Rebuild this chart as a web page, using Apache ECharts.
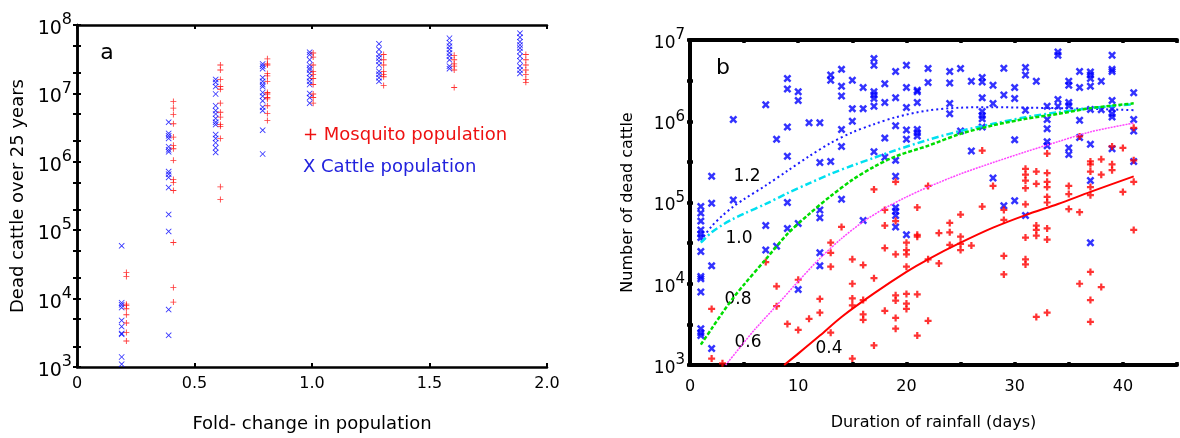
<!DOCTYPE html>
<html>
<head>
<meta charset="utf-8">
<script src="https://cdn.jsdelivr.net/npm/echarts@6.0.0/dist/echarts.min.js"></script>
<style>
html,body{margin:0;padding:0;background:#fff}
#main{width:1180px;height:438px}
</style>
</head>
<body>
<div id="main"></div>
<script>
// ---- panel a : dead cattle vs fold-change ----
const foldTicks = [0, 0.5, 1.0, 1.5, 2.0];
const foldCattleX = [0.19, 0.39, 0.59, 0.79, 0.99, 1.285, 1.585, 1.885];
const foldMosquitoX = [0.21, 0.41, 0.61, 0.81, 1.005, 1.305, 1.605, 1.91];
const cattleDeadByFold = [
  [5.9e4, 8.7e3, 8.1e3, 7.4e3, 4.8e3, 3.9e3, 3.1e3, 3.0e3, 1.4e3, 1.1e3],
  [3.8e6, 2.6e6, 2.4e6, 2.2e6, 1.66e6, 1.5e6, 1.4e6, 7.2e5, 6.6e5, 5.9e5, 4.2e5, 1.7e5, 9.6e4, 6.9e3, 2.9e3],
  [1.6e7, 1.45e7, 1.26e7, 9.8e6, 6.6e6, 5.6e6, 5.0e6, 4.3e6, 3.8e6, 3.5e6, 2.5e6, 2.2e6, 1.9e6, 1.6e6, 1.37e6],
  [2.7e7, 2.5e7, 2.3e7, 1.7e7, 1.5e7, 1.35e7, 1.26e7, 1.03e7, 9.1e6, 7.8e6, 6.3e6, 5.6e6, 2.9e6, 1.3e6],
  [4.0e7, 3.7e7, 3.1e7, 2.6e7, 2.35e7, 2.2e7, 1.96e7, 1.7e7, 1.5e7, 1.35e7, 1.0e7, 8.7e6, 7.2e6],
  [5.3e7, 4.4e7, 3.7e7, 3.3e7, 2.95e7, 2.6e7, 2.1e7, 1.9e7, 1.7e7, 1.5e7],
  [6.4e7, 5.5e7, 4.9e7, 4.4e7, 3.9e7, 3.5e7, 3.1e7, 2.5e7, 2.3e7],
  [7.6e7, 6.6e7, 5.7e7, 5.1e7, 4.6e7, 4.1e7, 3.5e7, 3.0e7, 2.5e7, 2.2e7, 1.96e7]
];
const mosquitoDeadByFold = [
  [2.4e4, 2.1e4, 8.3e3, 7.9e3, 7.1e3, 5.8e3, 4.4e3, 3.2e3, 2.4e3],
  [7.6e6, 6.1e6, 4.9e6, 3.6e6, 2.3e6, 1.74e6, 1.55e6, 1.05e6, 5.5e5, 5.0e5, 3.8e5, 6.6e4, 1.45e4, 8.9e3],
  [2.6e7, 2.2e7, 1.6e7, 1.26e7, 1.15e7, 7.2e6, 5.3e6, 4.5e6, 3.5e6, 3.3e6, 2.2e6, 4.3e5, 2.8e5],
  [3.2e7, 2.7e7, 2.6e7, 1.96e7, 1.8e7, 1.5e7, 1.03e7, 9.8e6, 8.7e6, 8.3e6, 6.6e6, 5.1e6, 4.0e6],
  [3.9e7, 3.4e7, 2.6e7, 2.1e7, 1.9e7, 1.65e7, 1.35e7, 9.8e6, 8.7e6, 7.2e6],
  [3.7e7, 3.1e7, 2.6e7, 2.1e7, 1.9e7, 1.75e7, 1.3e7],
  [3.6e7, 3.1e7, 2.7e7, 2.5e7, 2.2e7, 1.22e7],
  [3.7e7, 3.1e7, 2.6e7, 2.2e7, 1.9e7, 1.6e7, 1.45e7]
];
const leftYLabels = [1e3, 1e4, 1e5, 1e6, 1e7, 1e8];

// ---- panel b : dead cattle vs rainfall duration ----
const rainTicks = [0, 10, 20, 30, 40];
const cattleDays = [1, 2, 4, 7, 8, 9, 10, 11, 12, 13, 14, 15, 16, 17, 18, 19, 20, 21, 22, 24, 25, 26, 27, 28, 29, 30, 31, 32, 33, 34, 35, 36, 37, 38, 39, 41];
const cattleDeadByDay = [
  [8.9e4, 7.4e4, 5.9e4, 4.6e4, 4.1e4, 3.7e4, 2.5e4, 1.23e4, 1.15e4, 7.9e3, 2.8e3, 2.5e3, 2.3e3],
  [2.1e5, 9.8e4, 1.66e4, 1.6e3],
  [1.05e6, 1.07e5],
  [1.6e6, 5.2e4, 2.6e4],
  [6.0e5, 2.9e4],
  [3.35e6, 2.5e6, 8.5e5, 3.7e5, 1.0e5, 4.8e4],
  [2.3e6, 1.8e6, 5.5e4, 8.5e3],
  [9.6e5],
  [9.6e5, 3.1e5, 8.1e4, 6.5e4, 2.4e4, 1.66e4],
  [3.7e6, 3.2e6, 3.2e5],
  [4.35e6, 2.7e6, 2.05e6, 7.9e5, 4.9e5, 1.1e5],
  [3.2e6, 1.43e6, 1.0e6],
  [2.6e6, 1.43e6, 6.0e4],
  [5.9e6, 4.9e6, 2.3e6, 2.1e6, 1.9e6, 1.53e6, 4.2e5],
  [2.9e6, 1.7e6, 6.2e5, 3.6e5],
  [4.1e6, 1.95e6, 8.8e5, 3.3e5, 2.1e5, 8.7e4, 7.8e4, 6.9e4, 5.0e4],
  [4.9e6, 2.6e6, 1.48e6, 7.8e5, 6.0e5, 4.0e4],
  [2.4e6, 2.3e6, 1.7e6, 7.9e5, 7.2e5, 6.6e5],
  [4.45e6, 3.0e6],
  [4.1e6, 2.95e6, 1.65e6, 1.24e6],
  [4.45e6, 7.6e5],
  [3.1e6, 4.3e5],
  [3.45e6, 3.05e6, 1.94e6, 1.32e6, 1.18e6, 1.07e6, 8.5e5],
  [2.77e6, 1.65e6, 2.0e5],
  [4.5e6, 2.1e6, 9.1e4],
  [2.6e6, 1.9e6, 5.9e5, 1.05e5],
  [4.6e6, 3.7e6, 1.37e6, 6.9e4],
  [3.1e6],
  [1.53e6, 1.05e6, 8.1e5, 5.6e5, 5.0e5],
  [7.1e6, 6.5e6, 1.85e6, 1.53e6],
  [3.1e6, 2.77e6, 1.7e6, 1.55e6, 4.7e5, 3.9e5],
  [4.1e6, 2.6e6, 1.03e6, 6.3e5],
  [4.05e6, 3.7e6, 3.35e6, 2.7e6, 1.4e6, 5.2e5, 1.86e5, 3.2e4],
  [3.1e6, 1.39e6],
  [6.5e6, 4.35e6, 4.1e6, 1.8e6, 1.43e6, 1.24e6, 1.13e6, 4.6e5],
  [2.25e6, 1.05e6, 7.6e5, 3.2e5]
];
const mosquitoDays = [2, 3, 7, 8, 9, 10, 11, 12, 13, 14, 15, 16, 17, 18, 19, 20, 21, 22, 23, 24, 25, 26, 27, 28, 29, 31, 32, 33, 35, 36, 37, 38, 39, 40, 41];
const mosquitoDeadByDay = [
  [4.9e3, 1.2e3],
  [1.05e3],
  [1.85e4],
  [9.3e3, 5.3e3],
  [3.2e3],
  [1.12e4, 2.7e3],
  [3.7e3],
  [6.5e3, 4.4e3],
  [3.2e4, 2.4e4, 1.62e4, 2.5e3],
  [5.0e4],
  [2.0e4, 1.0e4, 6.6e3, 5.4e3, 1.2e3],
  [1.7e4, 6.3e3, 4.2e3, 3.6e3],
  [1.45e5, 1.17e4, 1.74e3],
  [8.1e4, 5.2e4, 2.75e4, 4.65e3],
  [1.8e5, 5.9e4, 2.3e4, 7.2e3, 6.2e3, 3.8e3, 2.8e3],
  [3.2e4, 2.6e4, 2.3e4, 1.62e4, 7.5e3, 5.7e3, 4.9e3],
  [8.7e4, 4.0e4, 3.8e4, 7.4e3, 2.3e3],
  [1.6e5, 2.0e4, 3.5e3],
  [4.2e4, 1.78e4],
  [5.6e4, 4.3e4, 3.0e4],
  [7.1e4, 3.8e4, 3.1e4, 2.6e4],
  [2.95e4],
  [4.35e5, 8.9e4],
  [1.6e5],
  [8.1e4, 6.1e4, 2.2e4, 1.3e4],
  [2.6e5, 2.2e5, 1.86e5, 1.5e5, 9.5e4, 3.7e4, 2.0e4, 1.73e4],
  [2.4e5, 1.7e5, 5.2e4, 4.6e4, 3.9e4, 3.9e3],
  [4.0e5, 2.3e5, 1.8e5, 1.55e5, 1.17e5, 1.0e5, 4.8e4, 3.5e4, 4.4e3],
  [1.6e5, 1.27e5, 8.3e4],
  [6.5e5, 7.6e4, 1.0e4],
  [3.2e5, 2.95e5, 2.4e5, 1.55e5, 1.23e5, 1.4e4, 6.3e3, 3.4e3],
  [3.4e5, 2.2e5, 9.1e3],
  [4.9e5, 2.95e5, 2.5e5],
  [4.7e5, 1.35e5],
  [8.3e5, 3.3e5, 1.8e5, 4.6e4]
];
// model curves, one per fold-change
const curveDays = [1, 2, 3, 4, 5, 7, 9, 11, 13, 15, 17, 19, 22, 25, 28, 31, 34, 37, 41];
const curve12 = [3.4e4, 5.1e4, 6.9e4, 8.9e4, 1.1e5, 1.62e5, 2.45e5, 3.7e5, 5.4e5, 7.3e5, 9.2e5, 1.12e6, 1.36e6, 1.47e6, 1.49e6, 1.47e6, 1.45e6, 1.42e6, 1.37e6];
const curve10 = [3.2e4, 4.3e4, 5.3e4, 6.3e4, 7.3e4, 9.6e4, 1.3e5, 1.72e5, 2.25e5, 2.85e5, 3.55e5, 4.4e5, 5.9e5, 7.6e5, 9.3e5, 1.12e6, 1.29e6, 1.45e6, 1.62e6];
const curve08 = [1.78e3, 2.8e3, 4.4e3, 6.7e3, 9.8e3, 2.0e4, 4.1e4, 7.2e4, 1.2e5, 1.9e5, 2.75e5, 3.7e5, 5.0e5, 7.0e5, 8.9e5, 1.07e6, 1.23e6, 1.45e6, 1.66e6];
const curve06Days = [3.3, 5, 6, 8, 10, 12, 14, 16, 18, 20, 22, 25, 28, 31, 34, 37, 41];
const curve06 = [1.0e3, 1.9e3, 2.75e3, 5.4e3, 1.07e4, 2.05e4, 3.6e4, 5.8e4, 8.5e4, 1.17e5, 1.55e5, 2.25e5, 3.1e5, 4.2e5, 5.6e5, 7.4e5, 9.5e5];
const curve04Days = [8.7, 10, 12, 14, 17, 20, 22, 25, 28, 31, 34, 37, 41];
const curve04 = [1.0e3, 1.38e3, 2.3e3, 3.9e3, 7.6e3, 1.4e4, 2.0e4, 3.2e4, 4.9e4, 7.0e4, 9.6e4, 1.35e5, 2.1e5];
const rightYLabels = [1e3, 1e4, 1e5, 1e6, 1e7];

const FONT = 'DejaVu Sans';
const RED = '#ff0000';
const BLUE = '#0000ff';
const PLUS_THIN = 'path://M4.3,0h1.4v4.3h4.3v1.4h-4.3v4.3h-1.4v-4.3h-4.3v-1.4h4.3z';
const CROSS_THIN = 'path://M0,1L1,0L5,4L9,0L10,1L6,5L10,9L9,10L5,6L1,10L0,9L4,5Z';
const PLUS_BOLD = 'path://M3.4,0h3.2v3.4h3.4v3.2h-3.4v3.4h-3.2v-3.4h-3.4v-3.2h3.4z';
const CROSS_BOLD = 'path://M0,2.2L2.2,0L5,2.8L7.8,0L10,2.2L7.2,5L10,7.8L7.8,10L5,7.2L2.2,10L0,7.8L2.8,5Z';

function pairs(xs, groups) {
  const out = [];
  groups.forEach((vals, i) => vals.forEach(v => out.push([xs[i], v])));
  return out;
}
function zip(xs, ys) {
  return xs.map((x, i) => [x, ys[i]]);
}
function decadeTicks(lo, hi, mults) {
  const t = [];
  for (let e = lo; e < hi; e++) mults.forEach(m => t.push(m * Math.pow(10, e)));
  t.push(Math.pow(10, hi));
  return t;
}
function powLabel(v) {
  return '{b|10}{s|' + Math.round(Math.log10(v)) + '}';
}

const chart = echarts.init(document.getElementById('main'));

const lineA = { lineStyle: { color: '#000', width: 2.5 } };
const lineB = { lineStyle: { color: '#000', width: 4 } };
const tickA = { inside: true, length: 4, lineStyle: { width: 2, color: '#000' } };
const tickB = { inside: true, length: 3, lineStyle: { width: 3.5, color: '#000' } };

function curve(name, days, vals, style) {
  return {
    name: name, type: 'line', xAxisIndex: 2, yAxisIndex: 2,
    smooth: 0.3, showSymbol: false, silent: true,
    lineStyle: style, data: zip(days, vals)
  };
}

const option = {
  animation: false,
  backgroundColor: '#fff',
  grid: [
    { left: 77, top: 25, width: 470, height: 346 },
    { left: 690, top: 40, width: 487, height: 325 }
  ],
  xAxis: [
    {
      gridIndex: 0, type: 'value', min: 0, max: 2, interval: 0.5,
      axisLine: lineA, axisTick: tickA,
      axisLabel: {
        color: '#000', fontFamily: FONT, fontSize: 16, margin: 9,
        customValues: foldTicks,
        formatter: v => (v === 0 ? '0' : v.toFixed(1))
      },
      splitLine: { show: false },
      name: 'Fold- change in population', nameLocation: 'middle', nameGap: 48,
      nameTextStyle: { color: '#000', fontFamily: FONT, fontSize: 18 }
    },
    {
      gridIndex: 0, type: 'value', position: 'top', min: 0, max: 2, interval: 0.5,
      axisLine: lineA, axisTick: tickA,
      axisLabel: { show: false }, splitLine: { show: false }
    },
    {
      gridIndex: 1, type: 'value', min: 0, max: 45, interval: 5,
      axisLine: lineB, axisTick: tickB,
      axisLabel: {
        color: '#000', fontFamily: FONT, fontSize: 16, margin: 14,
        customValues: rainTicks
      },
      splitLine: { show: false },
      name: 'Duration of rainfall (days)', nameLocation: 'middle', nameGap: 50,
      nameTextStyle: { color: '#000', fontFamily: FONT, fontSize: 16 }
    },
    {
      gridIndex: 1, type: 'value', position: 'top', min: 0, max: 45, interval: 5,
      axisLine: lineB, axisTick: tickB,
      axisLabel: { show: false }, splitLine: { show: false }
    }
  ],
  yAxis: [
    {
      gridIndex: 0, type: 'log', logBase: 10, min: 1e3, max: 1e8,
      axisLine: lineA,
      axisTick: Object.assign({ customValues: decadeTicks(3, 8, [1, 2, 5]) }, tickA),
      axisLabel: {
        color: '#000', fontFamily: FONT, margin: 5,
        customValues: leftYLabels,
        formatter: powLabel,
        rich: {
          b: { fontFamily: FONT, fontSize: 19, color: '#000', padding: [8, 0, 0, 0] },
          s: { fontFamily: FONT, fontSize: 16, color: '#000', padding: [0, 0, 10, 0] }
        }
      },
      splitLine: { show: false },
      name: 'Dead cattle over 25 years', nameLocation: 'middle', nameGap: 50, nameRotate: 90,
      nameTextStyle: { color: '#000', fontFamily: FONT, fontSize: 18 }
    },
    {
      gridIndex: 0, type: 'log', logBase: 10, min: 1e3, max: 1e8, position: 'right',
      axisLine: lineA,
      axisTick: Object.assign({ customValues: decadeTicks(3, 8, [1, 2, 5]) }, tickA),
      axisLabel: { show: false }, splitLine: { show: false }
    },
    {
      gridIndex: 1, type: 'log', logBase: 10, min: 1e3, max: 1e7,
      axisLine: lineB,
      axisTick: Object.assign({ customValues: decadeTicks(3, 7, [1, Math.sqrt(10)]) }, tickB),
      axisLabel: {
        color: '#000', fontFamily: FONT, margin: 5,
        customValues: rightYLabels,
        formatter: powLabel,
        rich: {
          b: { fontFamily: FONT, fontSize: 17, color: '#000', padding: [7, 0, 0, 0] },
          s: { fontFamily: FONT, fontSize: 15, color: '#000', padding: [0, 0, 9, 0] }
        }
      },
      splitLine: { show: false },
      name: 'Number of dead cattle', nameLocation: 'middle', nameGap: 54, nameRotate: 90,
      nameTextStyle: { color: '#000', fontFamily: FONT, fontSize: 16 }
    },
    {
      gridIndex: 1, type: 'log', logBase: 10, min: 1e3, max: 1e7, position: 'right',
      axisLine: lineB,
      axisTick: Object.assign({ customValues: decadeTicks(3, 7, [1, Math.sqrt(10)]) }, tickB),
      axisLabel: { show: false }, splitLine: { show: false }
    }
  ],
  series: [
    {
      name: 'Cattle population', type: 'scatter', xAxisIndex: 0, yAxisIndex: 0,
      symbol: CROSS_THIN, symbolSize: 6, itemStyle: { color: BLUE },
      data: pairs(foldCattleX, cattleDeadByFold)
    },
    {
      name: 'Mosquito population', type: 'scatter', xAxisIndex: 0, yAxisIndex: 0,
      symbol: PLUS_THIN, symbolSize: 6, itemStyle: { color: RED },
      data: pairs(foldMosquitoX, mosquitoDeadByFold)
    },
    {
      name: 'cattle b', type: 'scatter', xAxisIndex: 2, yAxisIndex: 2,
      symbol: CROSS_BOLD, symbolSize: 8, itemStyle: { color: BLUE },
      data: pairs(cattleDays, cattleDeadByDay)
    },
    {
      name: 'mosquito b', type: 'scatter', xAxisIndex: 2, yAxisIndex: 2,
      symbol: PLUS_BOLD, symbolSize: 7, itemStyle: { color: RED },
      data: pairs(mosquitoDays, mosquitoDeadByDay)
    },
    curve('1.2', curveDays, curve12, { color: '#1a1aff', width: 2, type: [2, 3] }),
    curve('1.0', curveDays, curve10, { color: '#00e0f0', width: 2.5, type: [7, 3, 2, 3] }),
    curve('0.8', curveDays, curve08, { color: '#00dd00', width: 2.5, type: [4, 2] }),
    curve('0.6', curve06Days, curve06, { color: '#ff44ff', width: 1.5, type: [2, 1] }),
    curve('0.4', curve04Days, curve04, { color: '#ff0000', width: 2 })
  ],
  graphic: [
    { type: 'text', x: 107, y: 53, style: { text: 'a', font: '22px "DejaVu Sans"', fill: '#000', align: 'center', verticalAlign: 'middle' } },
    { type: 'text', x: 723, y: 68, style: { text: 'b', font: '22px "DejaVu Sans"', fill: '#000', align: 'center', verticalAlign: 'middle' } },
    { type: 'text', x: 303, y: 135, style: { text: '+ Mosquito population', font: '18px "DejaVu Sans"', fill: '#ee1111', align: 'left', verticalAlign: 'middle' } },
    { type: 'text', x: 303, y: 167, style: { text: 'X Cattle population', font: '18px "DejaVu Sans"', fill: '#2222dd', align: 'left', verticalAlign: 'middle' } },
    { type: 'text', x: 747, y: 177, style: { text: '1.2', font: '17px "DejaVu Sans"', fill: '#000', align: 'center', verticalAlign: 'middle' } },
    { type: 'text', x: 739, y: 239, style: { text: '1.0', font: '17px "DejaVu Sans"', fill: '#000', align: 'center', verticalAlign: 'middle' } },
    { type: 'text', x: 738, y: 300, style: { text: '0.8', font: '17px "DejaVu Sans"', fill: '#000', align: 'center', verticalAlign: 'middle' } },
    { type: 'text', x: 748, y: 343, style: { text: '0.6', font: '17px "DejaVu Sans"', fill: '#000', align: 'center', verticalAlign: 'middle' } },
    { type: 'text', x: 829, y: 349, style: { text: '0.4', font: '17px "DejaVu Sans"', fill: '#000', align: 'center', verticalAlign: 'middle' } }
  ]
};

chart.setOption(option);
</script>
</body>
</html>
